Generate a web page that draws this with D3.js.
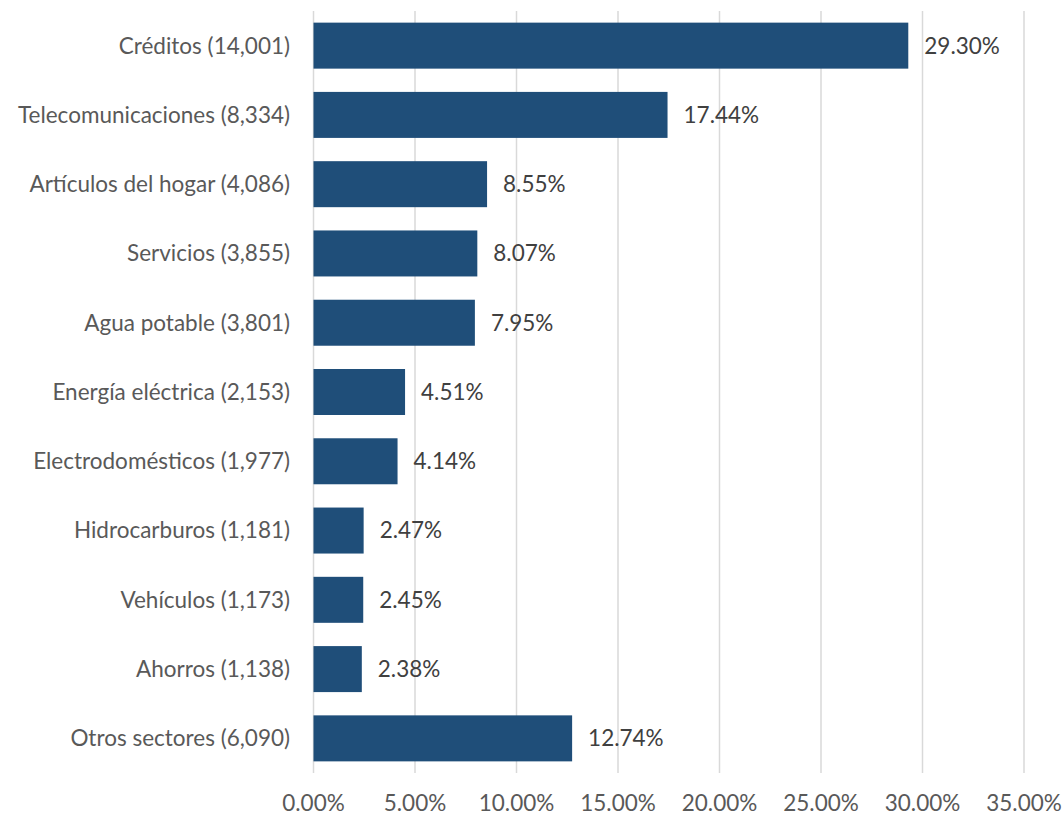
<!DOCTYPE html>
<html><head><meta charset="utf-8">
<script src="https://cdn.jsdelivr.net/npm/d3@7"></script>
<style>body{margin:0;background:#fff}</style>
</head><body>
<svg id="c" width="1063" height="816"></svg>
<script>
const categories = ["Créditos (14,001)","Telecomunicaciones (8,334)","Artículos del hogar (4,086)","Servicios (3,855)","Agua potable (3,801)","Energía eléctrica (2,153)","Electrodomésticos (1,977)","Hidrocarburos (1,181)","Vehículos (1,173)","Ahorros (1,138)","Otros sectores (6,090)"];
const values = [29.30,17.44,8.55,8.07,7.95,4.51,4.14,2.47,2.45,2.38,12.74];
const ticks = [0,5,10,15,20,25,30,35];

const svg = d3.select("#c");
const font = "Lato, sans-serif";
const fs = 22.5;
const x = d3.scaleLinear().domain([0,35]).range([313.5,1024]);
const y = d3.scaleBand().domain(categories).range([11,773]).paddingInner(0.336).paddingOuter(0.168);

svg.append("g").selectAll("line").data(ticks).join("line")
  .attr("x1",d=>x(d)).attr("x2",d=>x(d)).attr("y1",11).attr("y2",773)
  .attr("stroke","#d9d9d9").attr("stroke-width",1.5);

svg.append("g").selectAll("rect").data(values).join("rect")
  .attr("x",x(0)).attr("y",(d,i)=>y(categories[i]))
  .attr("width",d=>x(d)-x(0)).attr("height",y.bandwidth())
  .attr("fill","#1f4e79");

svg.append("g").selectAll("text").data(values).join("text")
  .attr("x",d=>x(d)+16).attr("y",(d,i)=>y(categories[i])+y.bandwidth()/2)
  .attr("dy","0.35em").attr("font-family",font).attr("font-size",fs)
  .attr("fill","#404040").text(d=>d.toFixed(2)+"%");

svg.append("g").selectAll("text").data(categories).join("text")
  .attr("x",290).attr("y",d=>y(d)+y.bandwidth()/2)
  .attr("dy","0.35em").attr("text-anchor","end").attr("font-family",font).attr("font-size",fs)
  .attr("fill","#595959").text(d=>d);

svg.append("g").selectAll("text").data(ticks).join("text")
  .attr("x",d=>x(d)).attr("y",803).attr("dy","0.35em").attr("text-anchor","middle")
  .attr("font-family",font).attr("font-size",fs).attr("fill","#595959")
  .text(d=>d.toFixed(2)+"%");
</script>
</body></html>
